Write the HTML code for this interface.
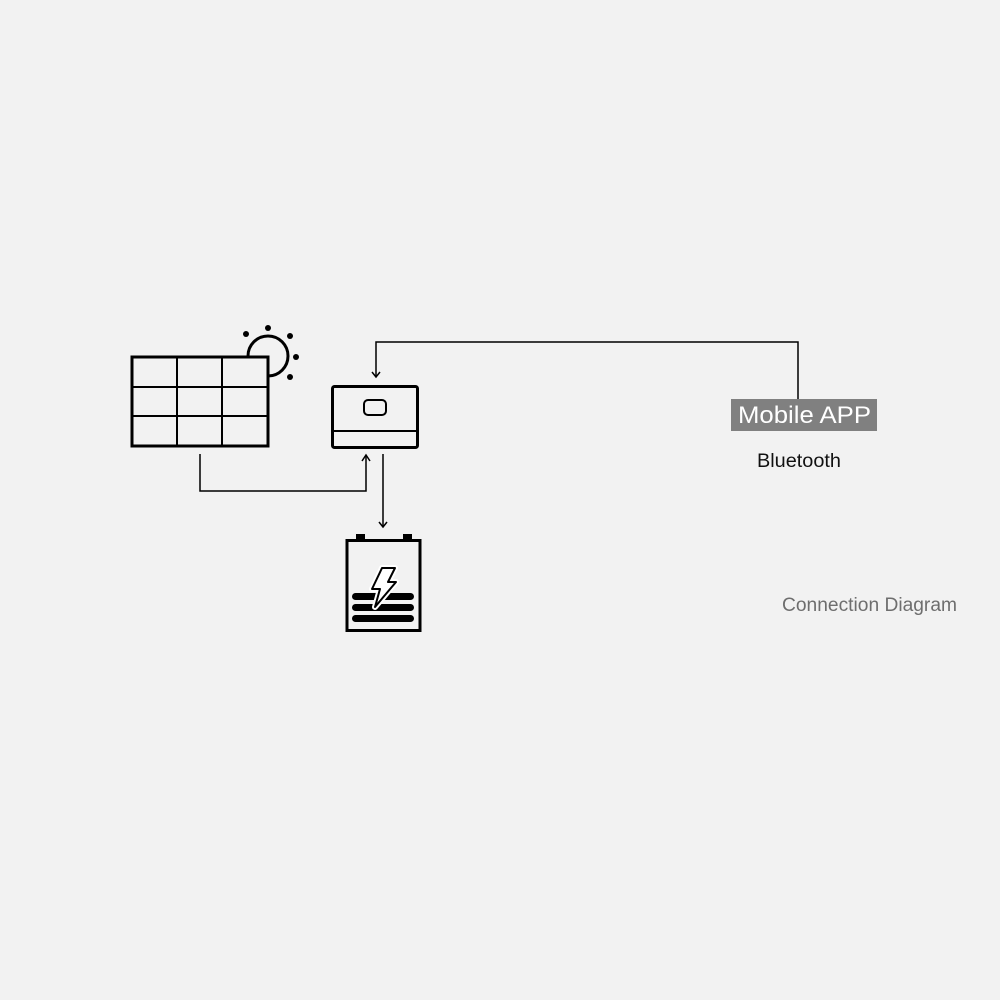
<!DOCTYPE html>
<html><head><meta charset="utf-8"><style>
html,body{margin:0;padding:0;background:#f2f2f2;}
svg{display:block}
text{font-family:"Liberation Sans",sans-serif;}
</style></head><body>
<svg width="1000" height="1000" viewBox="0 0 1000 1000" xmlns="http://www.w3.org/2000/svg">
<rect width="1000" height="1000" fill="#f2f2f2"/>
<g fill="#000">
<circle cx="268" cy="328" r="3"/>
<circle cx="246" cy="334" r="3"/>
<circle cx="290" cy="336" r="3"/>
<circle cx="296" cy="357" r="3"/>
<circle cx="290" cy="377" r="3"/>
</g>
<path d="M248 356 A20 20 0 1 1 268 376" fill="none" stroke="#000" stroke-width="3"/>
<rect x="132" y="357" width="136" height="89" fill="#f2f2f2" stroke="#000" stroke-width="3"/>
<g stroke="#000" stroke-width="2">
<line x1="177" y1="357" x2="177" y2="446"/>
<line x1="222" y1="357" x2="222" y2="446"/>
<line x1="132" y1="387" x2="268" y2="387"/>
<line x1="132" y1="416" x2="268" y2="416"/>
</g>
<rect x="332.5" y="386.5" width="85" height="61" rx="2" fill="none" stroke="#000" stroke-width="3"/>
<line x1="332" y1="431" x2="418" y2="431" stroke="#000" stroke-width="2"/>
<rect x="364" y="400" width="22" height="15" rx="4" fill="none" stroke="#000" stroke-width="2"/>
<g fill="none" stroke="#000" stroke-width="1.5">
<polyline points="200,454 200,491 366,491 366,456"/>
<polyline points="362,461 366,455 370,461"/>
<line x1="383" y1="454" x2="383" y2="527"/>
<polyline points="379,522 383,527 387,522"/>
<polyline points="798,399 798,342 376,342 376,377"/>
<polyline points="372,372 376,377 380,372"/>
</g>
<rect x="356" y="534" width="9" height="7" fill="#000"/>
<rect x="403" y="534" width="9" height="7" fill="#000"/>
<rect x="347" y="540.5" width="73" height="90" fill="none" stroke="#000" stroke-width="3"/>
<g fill="#000">
<rect x="352" y="593" width="62" height="7" rx="3.5"/>
<rect x="352" y="604" width="62" height="7" rx="3.5"/>
<rect x="352" y="615" width="62" height="7" rx="3.5"/>
</g>
<path d="M382 568 L395 568 L388 582 L396 582 L375 607 L380 589 L372 589 Z" fill="#fff" stroke="#fff" stroke-width="6" stroke-linejoin="round"/>
<path d="M382 568 L395 568 L388 582 L396 582 L375 607 L380 589 L372 589 Z" fill="#fff" stroke="#000" stroke-width="2" stroke-linejoin="round"/>
<rect x="731" y="399" width="146" height="32" fill="#808080"/>
<text x="738" y="423" font-size="24" fill="#fff" textLength="133" lengthAdjust="spacingAndGlyphs">Mobile APP</text>
<text x="757" y="467" font-size="19" fill="#111" textLength="84" lengthAdjust="spacingAndGlyphs">Bluetooth</text>
<text x="782" y="611" font-size="19" fill="#6e6e6e" textLength="175" lengthAdjust="spacingAndGlyphs">Connection Diagram</text>
</svg>
</body></html>
